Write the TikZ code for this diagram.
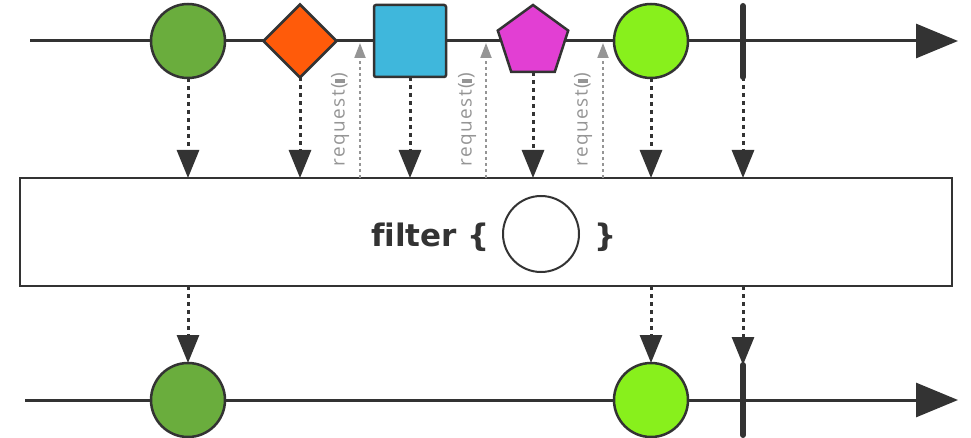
\documentclass[tikz,border=0pt]{standalone}
\usepackage{fontspec}
\setmainfont{Lato}
\newfontfamily\filterfont[Ligatures=NoCommon]{DejaVu Sans}
\newfontfamily\reqfont[LetterSpace=8]{Open Sans}
\usetikzlibrary{arrows.meta,shapes.geometric}
\definecolor{ink}{HTML}{333333}
\definecolor{greyink}{HTML}{959595}
\definecolor{cgreen}{HTML}{6AAD3D}
\definecolor{corange}{HTML}{FF5B0A}
\definecolor{cblue}{HTML}{3FB7DC}
\definecolor{cmagenta}{HTML}{E23FD3}
\definecolor{clime}{HTML}{88F01C}
\tikzset{
  timeline/.style={draw=ink, line width=3pt, -{Triangle[width=34pt,length=42pt]}},
  shapeout/.style={draw=ink, line width=2.5pt, inner sep=0pt, outer sep=0pt},
  marble/.style={shapeout, circle, minimum size=74pt},
  endbar/.style={draw=ink, line width=6pt, line cap=round},
  emit/.style={draw=ink, line width=3pt, dash pattern=on 4pt off 4pt, -{Triangle[width=22pt,length=28pt]}},
  req/.style={draw=greyink, line width=2pt, dash pattern=on 3pt off 3pt, -{Triangle[width=11pt,length=15pt]}},
  reqlabel/.style={rotate=90, text=greyink, font=\reqfont\fontsize{19}{19}\selectfont, inner sep=0pt},
  optext/.style={inner sep=0pt, text=ink, font=\filterfont\bfseries\fontsize{31}{31}\selectfont},
}
\begin{document}
\begin{tikzpicture}[x=1pt,y=-1pt]
\useasboundingbox (0,0) rectangle (971,438);
% top timeline
\coordinate (t0) at (30,41);
\coordinate (t1) at (958,41);
\draw[timeline] (t0) -- (t1);
% bottom timeline
\coordinate (b0) at (25,400);
\coordinate (b1) at (958,400);
\draw[timeline] (b0) -- (b1);
% operator box
\node[draw=ink, line width=2.2pt, minimum width=932pt, minimum height=108pt, inner sep=0pt, outer sep=0pt] (box) at (486,232) {};
\node[optext, anchor=base east] (ftxt) at (490,247) {filter \{};
\node[draw=ink, line width=2pt, circle, minimum size=76pt, inner sep=0pt] (pred) at (541,234) {};
\node[optext, anchor=base west] (ctxt) at (594,247) {\}};
% top marbles
\node[marble, fill=cgreen] (g1) at (188,41) {};
\node[shapeout, diamond, aspect=1, minimum size=73pt, fill=corange] (d1) at (300,41) {};
\node[shapeout, rectangle, rounded corners=2pt, minimum size=72pt, fill=cblue] (s1) at (410,41) {};
\node[shapeout, regular polygon, regular polygon sides=5, minimum size=74pt, fill=cmagenta] (p1) at (533,42) {};
\node[marble, fill=clime] (l1) at (651,41) {};
\coordinate (bar1t) at (743,6);
\coordinate (bar1b) at (743,77);
\draw[endbar] (bar1t) -- (bar1b);
% bottom marbles
\node[marble, fill=cgreen] (g2) at (188,400) {};
\node[marble, fill=clime] (l2) at (651,400) {};
\coordinate (bar2t) at (743,365);
\coordinate (bar2b) at (743,435);
\draw[endbar] (bar2t) -- (bar2b);
% emissions into operator
\draw[emit] (g1.south) -- (g1.south |- box.north);
\draw[emit] (d1.south) -- (d1.south |- box.north);
\draw[emit] (s1.south) -- (s1.south |- box.north);
\draw[emit] (p1.south) -- (p1.south |- box.north);
\draw[emit] (l1.south) -- (l1.south |- box.north);
\draw[emit] (bar1b) -- (bar1b |- box.north);
% emissions out of operator
\draw[emit] (g2.north |- box.south) -- (g2.north);
\draw[emit] (l2.north |- box.south) -- (l2.north);
\draw[emit] (bar2t |- box.south) -- (bar2t);
% requests
\coordinate (r1) at (360,43);
\coordinate (r2) at (486,43);
\coordinate (r3) at (603,43);
\draw[req] (r1 |- box.north) -- (r1);
\draw[req] (r2 |- box.north) -- (r2);
\draw[req] (r3 |- box.north) -- (r3);
\node[reqlabel] (q1) at (340,120) {request(\rule[0pt]{4pt}{10pt})};
\node[reqlabel] (q2) at (467,120) {request(\rule[0pt]{4pt}{10pt})};
\node[reqlabel] (q3) at (583,120) {request(\rule[0pt]{4pt}{10pt})};
\end{tikzpicture}
\end{document}
